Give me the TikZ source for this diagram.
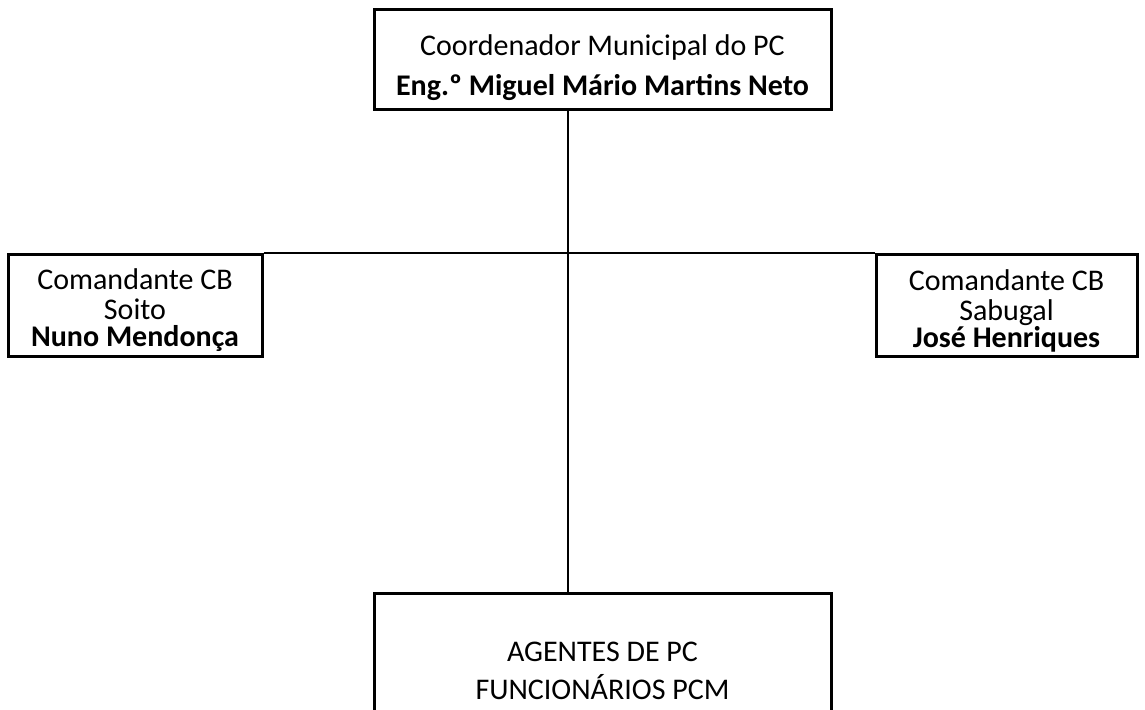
\documentclass[tikz,border=0pt]{standalone}
\usepackage{fontspec}
\setmainfont{Carlito}
\usetikzlibrary{positioning}

\begin{document}
\begin{tikzpicture}[x=0.5pt,y=-0.5pt]
\tikzstyle{every node}+=[inner sep=0pt]
\tikzstyle{cargo}=[draw=black, line width=1.5pt, align=center, font=\fontsize{15}{20}\selectfont]
\tikzstyle{ligacao}=[draw=black, line width=1pt]
\clip (0,0) rectangle (1145,710);
\node [cargo, minimum width=228.5pt, minimum height=50pt] (coordenador) at (602.5,60) {\rule{0pt}{18pt}Coordenador Municipal do PC\\\textbf{Eng.º Miguel Mário Martins Neto}};
\node [cargo, font=\fontsize{15}{15}\selectfont, minimum width=127pt, minimum height=51pt] (soito) at (135,306) {\rule{0pt}{15pt}Comandante CB\\Soito\\[-1.5pt]\textbf{Nuno Mendonça}};
\node [cargo, font=\fontsize{15}{15}\selectfont, minimum width=130.5pt, minimum height=51pt] (sabugal) at (1006.5,306) {\rule{0pt}{15pt}Comandante CB\\Sabugal\\[-1.5pt]\textbf{José Henriques}};
\node [cargo, font=\fontsize{15}{19}\selectfont, minimum width=228.5pt, minimum height=78pt] (agentes) at (602.5,671) {AGENTES DE PC\\FUNCIONÁRIOS PCM};
\coordinate (centro) at (568,255);
\draw [ligacao] (coordenador.south -| centro) -- (centro);
\draw [ligacao] (soito.north east) -- (sabugal.north west);
\draw [ligacao] (centro) -- (centro |- agentes.north);
\end{tikzpicture}
\end{document}
